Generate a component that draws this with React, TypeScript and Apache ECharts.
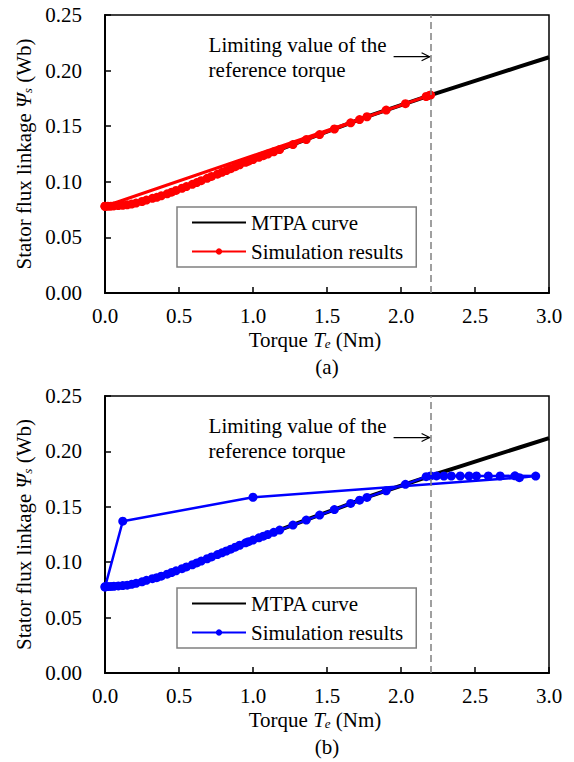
import React, { useEffect, useRef } from "react";
import * as echarts from "echarts";

const FONT = "Liberation Serif";

// MTPA curve (both panels)
const mtpaTorque = [0, 0.1, 0.2, 0.3, 0.4, 0.5, 0.6, 0.7, 0.8, 0.9, 1.0, 1.2, 1.4, 1.6, 1.8, 2.0, 2.2, 2.4, 2.6, 2.8, 3.0];
const mtpaFlux = [0.078, 0.0787, 0.0806, 0.0843, 0.0882, 0.0932, 0.0982, 0.1037, 0.109, 0.1147, 0.12, 0.13, 0.1402, 0.15, 0.16, 0.169, 0.178, 0.1865, 0.195, 0.2035, 0.212];

// Simulation results (a)
const simATorque = [0, 2.2, 2.19, 2.17, 2.03, 1.9, 1.77, 1.72, 1.66, 1.55, 1.45, 1.36, 1.27, 1.18, 1.14, 1.1, 1.07, 1.04, 1.0, 0.97, 0.95, 0.91, 0.88, 0.85, 0.82, 0.79, 0.76, 0.72, 0.69, 0.65, 0.62, 0.59, 0.55, 0.52, 0.48, 0.45, 0.42, 0.38, 0.35, 0.32, 0.28, 0.25, 0.21, 0.18, 0.15, 0.12, 0.09, 0.06, 0.04, 0.02, 0.0];
const simAFlux = [0.078, 0.178, 0.1775, 0.1767, 0.1703, 0.1645, 0.1585, 0.156, 0.153, 0.1475, 0.1425, 0.138, 0.1335, 0.129, 0.127, 0.125, 0.1235, 0.122, 0.12, 0.1185, 0.1175, 0.1153, 0.1136, 0.1118, 0.1101, 0.1085, 0.1069, 0.1048, 0.1031, 0.101, 0.0993, 0.0977, 0.0957, 0.0942, 0.0922, 0.0907, 0.0892, 0.0874, 0.086, 0.0851, 0.0836, 0.0823, 0.0809, 0.08, 0.0793, 0.0789, 0.0786, 0.0783, 0.0781, 0.078, 0.078];

// Simulation results (b)
const simBTorque = [0, 0.12, 1.0, 2.8, 2.91, 2.77, 2.67, 2.59, 2.51, 2.46, 2.4, 2.34, 2.29, 2.24, 2.2, 2.17, 2.03, 1.9, 1.77, 1.72, 1.66, 1.55, 1.45, 1.36, 1.27, 1.18, 1.14, 1.1, 1.07, 1.04, 1.0, 0.97, 0.95, 0.91, 0.88, 0.85, 0.82, 0.79, 0.76, 0.72, 0.69, 0.65, 0.62, 0.59, 0.55, 0.52, 0.48, 0.45, 0.42, 0.38, 0.35, 0.32, 0.28, 0.25, 0.21, 0.18, 0.15, 0.12, 0.09, 0.06, 0.04, 0.02, 0.0];
const simBFlux = [0.0775, 0.137, 0.1586, 0.1763, 0.1777, 0.178, 0.1778, 0.1778, 0.1778, 0.1778, 0.1778, 0.1778, 0.1778, 0.1779, 0.1779, 0.1772, 0.1703, 0.1645, 0.1585, 0.156, 0.153, 0.1475, 0.1425, 0.138, 0.1335, 0.129, 0.127, 0.125, 0.1235, 0.122, 0.12, 0.1185, 0.1175, 0.1153, 0.1136, 0.1118, 0.1101, 0.1085, 0.1069, 0.1048, 0.1031, 0.101, 0.0993, 0.0977, 0.0957, 0.0942, 0.0922, 0.0907, 0.0892, 0.0874, 0.086, 0.0851, 0.0836, 0.0823, 0.0809, 0.08, 0.0793, 0.0789, 0.0786, 0.0783, 0.0781, 0.078, 0.078];

const limitTorque = 2.2;
const annoLines = ["Limiting value of the", "reference torque"];
const panelLabels = ["(a)", "(b)"];

const zip = (xs: number[], ys: number[]) => xs.map((x, i) => [x, ys[i]]);

const rich = {
  i: { fontStyle: "italic", fontSize: 21, fontFamily: FONT, color: "#000" },
  sub: { fontStyle: "italic", fontSize: 13, fontFamily: FONT, color: "#000", verticalAlign: "bottom", padding: [8, 0, 0, 0] },
};

function xAxisFor(idx: number) {
  return {
    type: "value",
    gridIndex: idx,
    min: 0,
    max: 3,
    interval: 0.5,
    axisLine: { lineStyle: { color: "#000", width: 2 } },
    axisTick: { inside: true, length: 6, lineStyle: { color: "#000", width: 1.5 } },
    axisLabel: { color: "#000", fontFamily: FONT, fontSize: 21, margin: 12, formatter: (v: number) => v.toFixed(1) },
    splitLine: { show: false },
    name: "Torque {i|T}{sub|e} (Nm)",
    nameLocation: "middle",
    nameGap: 36,
    nameTextStyle: { color: "#000", fontFamily: FONT, fontSize: 21, rich, padding: [0, 24, 0, 0] },
  };
}

function yAxisFor(idx: number) {
  return {
    type: "value",
    gridIndex: idx,
    min: 0,
    max: 0.25,
    interval: 0.05,
    axisLine: { lineStyle: { color: "#000", width: 2 } },
    axisTick: { inside: true, length: 6, lineStyle: { color: "#000", width: 1.5 } },
    axisLabel: { color: "#000", fontFamily: FONT, fontSize: 21, margin: 23, formatter: (v: number) => v.toFixed(2) },
    splitLine: { show: false },
    name: "Stator flux linkage {i|Ψ}{sub|s} (Wb)",
    nameLocation: "middle",
    nameGap: 70,
    nameRotate: 90,
    nameTextStyle: { color: "#000", fontFamily: FONT, fontSize: 21, rich },
  };
}

function legendFor(top: number, names: string[]) {
  return {
    left: 177,
    top,
    orient: "vertical",
    data: [
      { name: names[0], itemStyle: { opacity: 0 } },
      { name: names[1] },
    ],
    itemWidth: 54,
    itemHeight: 8,
    itemGap: 8,
    padding: [5, 13, 5, 14],
    borderColor: "#808080",
    borderWidth: 1.5,
    backgroundColor: "#fff",
    formatter: (n: string) => n.replace(" (b)", ""),
    textStyle: { color: "#000", fontFamily: FONT, fontSize: 21 },
  };
}

export default function App() {
  const ref = useRef<HTMLDivElement>(null);
  useEffect(() => {
    if (!ref.current) return;
    const chart = echarts.init(ref.current, undefined, { renderer: "svg" });
    const mtpa = zip(mtpaTorque, mtpaFlux);
    const dashed = {
      silent: true,
      symbol: "none",
      label: { show: false },
      lineStyle: { color: "#808080", type: [7, 4], width: 1.5 },
      data: [{ xAxis: limitTorque }],
    };
    chart.setOption({
      animation: false,
      backgroundColor: "#fff",
      grid: [
        { left: 105, right: 25, top: 15, height: 278, show: true, borderColor: "#000", borderWidth: 1.5 },
        { left: 105, right: 25, top: 396, height: 277, show: true, borderColor: "#000", borderWidth: 1.5 },
      ],
      xAxis: [xAxisFor(0), xAxisFor(1)],
      yAxis: [yAxisFor(0), yAxisFor(1)],
      legend: [
        legendFor(207, ["MTPA curve", "Simulation results"]),
        legendFor(588, ["MTPA curve (b)", "Simulation results (b)"]),
      ],
      series: [
        { name: "MTPA curve", type: "line", xAxisIndex: 0, yAxisIndex: 0, data: mtpa, showSymbol: false, symbol: "none", lineStyle: { color: "#000", width: 4 }, itemStyle: { color: "#000" }, z: 2, markLine: dashed },
        { name: "Simulation results", type: "line", xAxisIndex: 0, yAxisIndex: 0, data: zip(simATorque, simAFlux), symbol: "circle", symbolSize: 9, lineStyle: { color: "#ff0000", width: 3 }, itemStyle: { color: "#ff0000" }, z: 3 },
        { name: "MTPA curve (b)", type: "line", xAxisIndex: 1, yAxisIndex: 1, data: mtpa, showSymbol: false, symbol: "none", lineStyle: { color: "#000", width: 4 }, itemStyle: { color: "#000" }, z: 2, markLine: dashed },
        { name: "Simulation results (b)", type: "line", xAxisIndex: 1, yAxisIndex: 1, data: zip(simBTorque, simBFlux), symbol: "circle", symbolSize: 9, lineStyle: { color: "#0000ff", width: 2.5 }, itemStyle: { color: "#0000ff" }, z: 3 },
      ],
    });

    const graphics: any[] = [];
    [0, 1].forEach((g) => {
      const p1 = chart.convertToPixel({ gridIndex: g }, [0.7, 0.223]) as number[];
      const p2 = chart.convertToPixel({ gridIndex: g }, [0.7, 0.2005]) as number[];
      const a1 = chart.convertToPixel({ gridIndex: g }, [1.95, 0.2125]) as number[];
      const a2 = chart.convertToPixel({ gridIndex: g }, [limitTorque, 0.2125]) as number[];
      const c = chart.convertToPixel({ gridIndex: g }, [1.5, 0]) as number[];
      graphics.push(
        { type: "text", x: p1[0], y: p1[1], style: { text: annoLines[0], fontFamily: FONT, fontSize: 21, fill: "#000", align: "left", verticalAlign: "middle" } },
        { type: "text", x: p2[0], y: p2[1], style: { text: annoLines[1], fontFamily: FONT, fontSize: 21, fill: "#000", align: "left", verticalAlign: "middle" } },
        { type: "line", shape: { x1: a1[0], y1: a1[1], x2: a2[0] - 1, y2: a2[1] }, style: { stroke: "#000", lineWidth: 1.2 } },
        { type: "polyline", shape: { points: [[a2[0] - 9, a2[1] - 4], [a2[0] - 1, a2[1]], [a2[0] - 9, a2[1] + 4]] }, style: { stroke: "#000", lineWidth: 1.2, fill: "none" } },
        { type: "text", x: c[0], y: c[1] + 74, style: { text: panelLabels[g], fontFamily: FONT, fontSize: 21, fill: "#000", align: "center", verticalAlign: "middle" } }
      );
    });
    chart.setOption({ graphic: graphics });
    return () => chart.dispose();
  }, []);
  return <div ref={ref} style={{ position: "absolute", left: 0, top: 0, width: 574, height: 762 }} />;
}
